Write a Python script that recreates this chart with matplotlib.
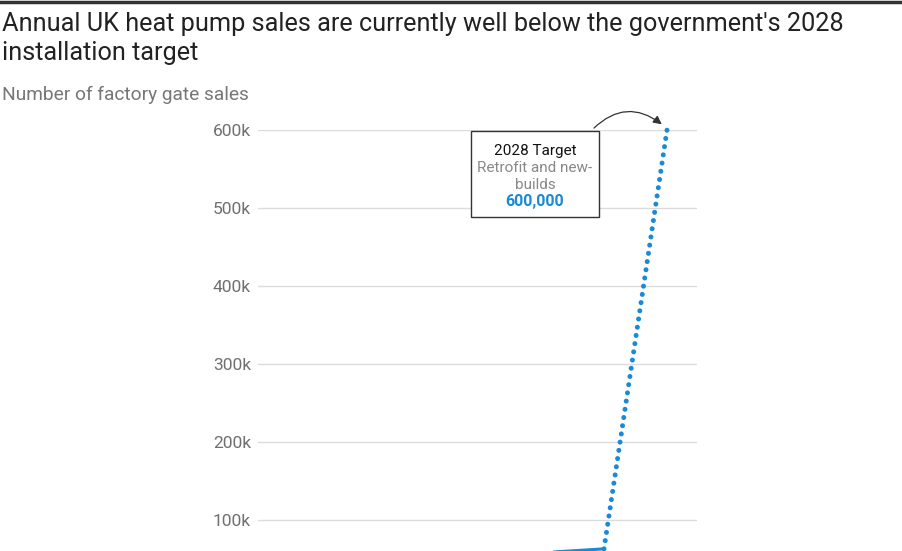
import matplotlib.pyplot as plt
from matplotlib.patches import FancyArrowPatch

# actual sales (solid) and the path to the 2028 target (dotted)
years = [2017, 2018, 2019, 2020, 2021, 2022, 2023]
sales = [57000, 58000, 59000, 60000, 61000, 62000, 63000]
target_years = [2023, 2028]
target_sales = [63000, 600000]
yticks = [100000, 200000, 300000, 400000, 500000, 600000]
ytick_labels = ['100k', '200k', '300k', '400k', '500k', '600k']

blue = '#1a8ad4'
narrow = ['Liberation Sans Narrow', 'Roboto', 'DejaVu Sans']

fig = plt.figure(figsize=(9.02, 5.51), dpi=100)

# dark rule at the very top
fig.add_artist(plt.Line2D([0, 1], [1 - 1.5/551, 1 - 1.5/551], color='#333333', lw=2.5))

fig.text(2/902, 1 - 31/551, "Annual UK heat pump sales are currently well below the government's 2028",
         fontsize=18.2, family='Roboto', color='#222222', va='baseline')
fig.text(2/902, 1 - 60/551, "installation target",
         fontsize=18.2, family='Roboto', color='#222222', va='baseline')
fig.text(2/902, 1 - 100/551, "Number of factory gate sales",
         fontsize=13.8, family='Roboto', color='#777777', va='baseline')

ax = fig.add_axes([258/902, -47/551, 439/902, 468/551])
ax.set_xlim(1995.54, 2030.38)
ax.set_ylim(0, 600000)

ax.plot(years, sales, color=blue, lw=2.2, solid_capstyle='butt')
ax.plot(target_years, target_sales, color=blue, lw=3.6,
        linestyle=(0, (0.01, 1.65)), dash_capstyle='round', clip_on=False)

ax.set_yticks(yticks)
ax.set_yticklabels(ytick_labels, family=narrow, fontsize=12.5, color='#6f6f6f')
ax.tick_params(axis='y', length=0, pad=5)
ax.set_xticks([])
ax.grid(axis='y', color='#dcdcdc', lw=1)
ax.set_axisbelow(True)
for s in ax.spines.values():
    s.set_visible(False)

# annotation box
bx0, bx1 = 471/902, 599/902
by0, by1 = 1 - 217/551, 1 - 131/551
box = plt.Rectangle((bx0, by0), bx1 - bx0, by1 - by0, transform=fig.transFigure,
                    facecolor='white', edgecolor='#333333', lw=1, zorder=5)
fig.add_artist(box)
cx = 535/902
fig.text(cx, 1 - 155/551, '2028 Target', ha='center', va='baseline', fontsize=11,
         family=narrow, color='#111111', zorder=6)
fig.text(cx, 1 - 172/551, 'Retrofit and new-', ha='center', va='baseline', fontsize=11,
         family=narrow, color='#888888', zorder=6)
fig.text(cx, 1 - 189/551, 'builds', ha='center', va='baseline', fontsize=11,
         family=narrow, color='#888888', zorder=6)
fig.text(cx, 1 - 206/551, '600,000', ha='center', va='baseline', fontsize=11.5,
         family=narrow, color=blue, weight='bold', zorder=6)

arrow = FancyArrowPatch((592/902, 1 - 130/551), (664/902, 1 - 126/551),
                        transform=fig.transFigure, connectionstyle='arc3,rad=-0.45',
                        arrowstyle='-|>,head_length=5,head_width=2.5', color='#333333',
                        lw=0.9, zorder=4)
fig.add_artist(arrow)

fig.savefig('out.png', dpi=100)
